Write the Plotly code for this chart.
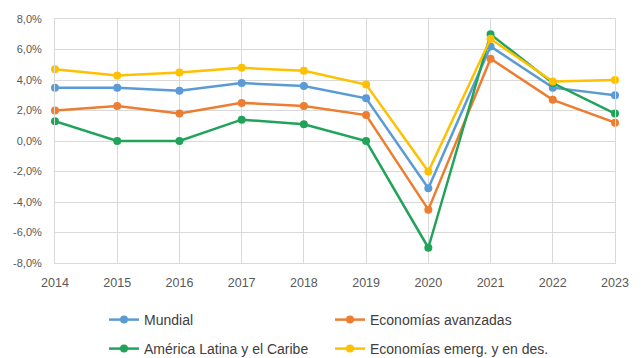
import plotly.graph_objects as go

years = [2014, 2015, 2016, 2017, 2018, 2019, 2020, 2021, 2022, 2023]

mundial = [3.5, 3.5, 3.3, 3.8, 3.6, 2.8, -3.1, 6.2, 3.5, 3.0]
avanzadas = [2.0, 2.3, 1.8, 2.5, 2.3, 1.7, -4.5, 5.4, 2.7, 1.2]
america_latina = [1.3, 0.0, 0.0, 1.4, 1.1, 0.0, -7.0, 7.0, 3.8, 1.8]
emergentes = [4.7, 4.3, 4.5, 4.8, 4.6, 3.7, -2.0, 6.7, 3.9, 4.0]

series_names = [
    "Mundial",
    "Economías avanzadas",
    "América Latina y el Caribe",
    "Economías emerg. y en des.",
]
series_colors = ["#5B9BD5", "#ED7D31", "#21A35A", "#FFC000"]
series_legend = ["legend", "legend", "legend2", "legend2"]

y_ticks = [8, 6, 4, 2, 0, -2, -4, -6, -8]
y_tick_labels = ["8,0%", "6,0%", "4,0%", "2,0%", "0,0%", "-2,0%", "-4,0%", "-6,0%", "-8,0%"]

FONT = "Liberation Sans"
GRID = "#D9D9D9"

fig = go.Figure()
for name, values, color, leg in zip(
    series_names, [mundial, avanzadas, america_latina, emergentes], series_colors, series_legend
):
    fig.add_trace(
        go.Scatter(
            x=years,
            y=values,
            name=name,
            mode="lines+markers",
            line=dict(color=color, width=2.5),
            marker=dict(color=color, size=8),
            cliponaxis=False,
            legend=leg,
        )
    )

legend_common = dict(
    orientation="h",
    xref="container",
    yref="container",
    x=104 / 641,
    xanchor="left",
    yanchor="middle",
    entrywidth=181,
    entrywidthmode="pixels",
    font=dict(family=FONT, size=14, color="#404040"),
    bgcolor="rgba(0,0,0,0)",
    itemwidth=30,
)

fig.update_layout(
    width=641,
    height=358,
    margin=dict(l=55, r=15, t=19, b=95),
    paper_bgcolor="white",
    plot_bgcolor="white",
    showlegend=True,
    legend=dict(legend_common, y=1 - 320 / 358),
    legend2=dict(legend_common, y=1 - 349 / 358),
    xaxis=dict(
        range=[2014, 2023],
        tickvals=years,
        ticktext=[str(y) for y in years],
        showgrid=True,
        gridcolor=GRID,
        gridwidth=1,
        showline=True,
        linecolor=GRID,
        mirror=True,
        zeroline=False,
        ticks="",
        ticklabelstandoff=8,
        tickfont=dict(family=FONT, size=12.5, color="#595959"),
        fixedrange=True,
    ),
    yaxis=dict(
        range=[-8, 8],
        tickvals=y_ticks,
        ticktext=y_tick_labels,
        showgrid=True,
        gridcolor=GRID,
        gridwidth=1,
        showline=True,
        linecolor=GRID,
        mirror=True,
        zeroline=True,
        zerolinecolor=GRID,
        zerolinewidth=1,
        ticks="",
        ticklabelstandoff=10,
        tickfont=dict(family=FONT, size=11, color="#595959"),
        fixedrange=True,
    ),
)

fig.write_html("out.html")
